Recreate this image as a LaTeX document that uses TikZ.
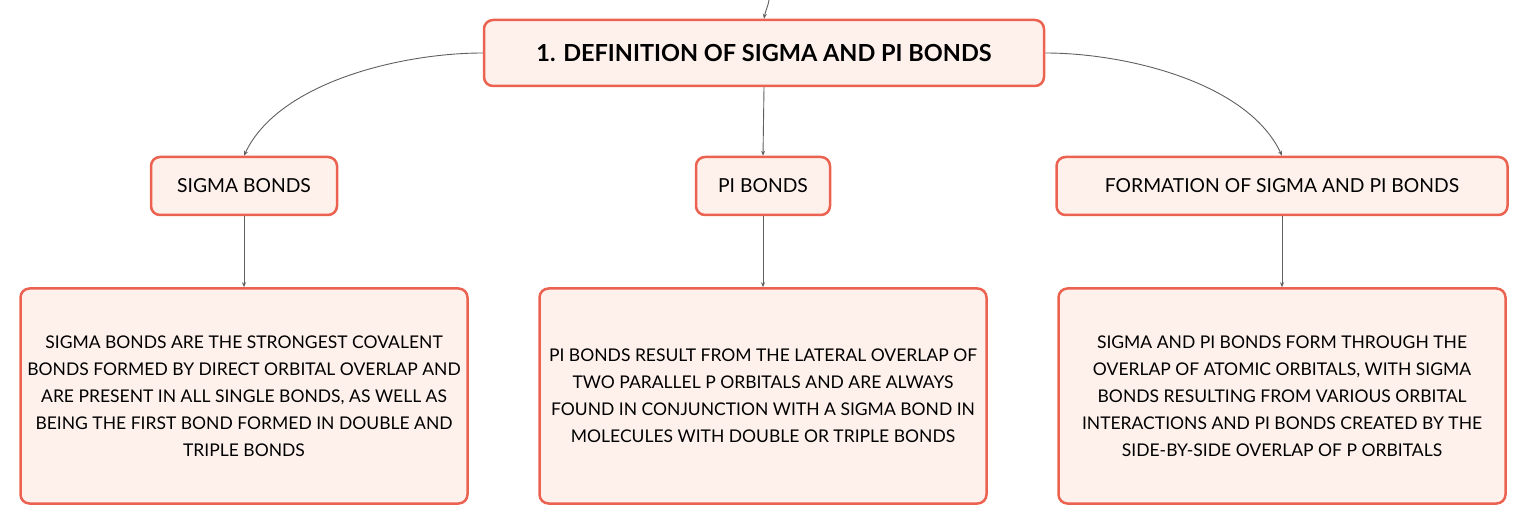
\documentclass[tikz,border=0pt]{standalone}
\usepackage{fontspec}
\setmainfont{Lato}
\usetikzlibrary{arrows.meta}
\definecolor{bondred}{RGB}{236,98,80}
\definecolor{bondpink}{RGB}{254,241,236}
\definecolor{linkgray}{RGB}{95,95,95}
\tikzstyle{blocktopic} = [rectangle, rounded corners=9pt, minimum width=560pt, minimum height=66pt, text centered, draw=bondred, fill=bondpink, line width=2.5pt, font=\fontsize{23.5}{28}\selectfont\bfseries]
\tikzstyle{blockhead} = [rectangle, rounded corners=9pt, minimum height=58pt, text centered, draw=bondred, fill=bondpink, line width=2.5pt, font=\fontsize{19.3}{22}\selectfont]
\tikzstyle{blocktext} = [rectangle, rounded corners=9pt, minimum width=447pt, minimum height=215pt, align=center, draw=bondred, fill=bondpink, line width=2.5pt, font=\fontsize{17.5}{27}\selectfont]
\tikzstyle{arrow} = [linkgray, line width=0.9pt, -{Stealth[length=5pt,width=4pt]}]

\begin{document}
\begin{tikzpicture}[x=1pt, y=-1pt]
\useasboundingbox (0,0) rectangle (1529,526);

\node (definition) [blocktopic] at (764,53) {1. DEFINITION OF SIGMA AND PI BONDS};
\node (sigmabonds) [blockhead, minimum width=186pt] at (244,186) {SIGMA BONDS};
\node (pibonds) [blockhead, minimum width=134pt] at (763,186) {PI BONDS};
\node (formation) [blockhead, minimum width=451pt] at (1282,186) {FORMATION OF SIGMA AND PI BONDS};

\node (sigmatext) [blocktext] at (244,396) {SIGMA BONDS ARE THE STRONGEST COVALENT\\BONDS FORMED BY DIRECT ORBITAL OVERLAP AND\\ARE PRESENT IN ALL SINGLE BONDS, AS WELL AS\\BEING THE FIRST BOND FORMED IN DOUBLE AND\\TRIPLE BONDS};
\node (pitext) [blocktext] at (763,396) {PI BONDS RESULT FROM THE LATERAL OVERLAP OF\\TWO PARALLEL P ORBITALS AND ARE ALWAYS\\FOUND IN CONJUNCTION WITH A SIGMA BOND IN\\MOLECULES WITH DOUBLE OR TRIPLE BONDS};
\node (formationtext) [blocktext] at (1282,396) {SIGMA AND PI BONDS FORM THROUGH THE\\OVERLAP OF ATOMIC ORBITALS, WITH SIGMA\\BONDS RESULTING FROM VARIOUS ORBITAL\\INTERACTIONS AND PI BONDS CREATED BY THE\\SIDE-BY-SIDE OVERLAP OF P ORBITALS};

\coordinate (incoming) at (769,0);

\draw [arrow] (incoming) to[out=-100, in=80] (definition.north);
\draw [arrow] (definition.west) to[out=180, in=65, looseness=0.8] (sigmabonds.north);
\draw [arrow] (definition.south) -- (pibonds.north);
\draw [arrow] (definition.east) to[out=0, in=115, looseness=0.8] (formation.north);
\draw [arrow] (sigmabonds) -- (sigmatext);
\draw [arrow] (pibonds) -- (pitext);
\draw [arrow] (formation) -- (formationtext);

\end{tikzpicture}
\end{document}
